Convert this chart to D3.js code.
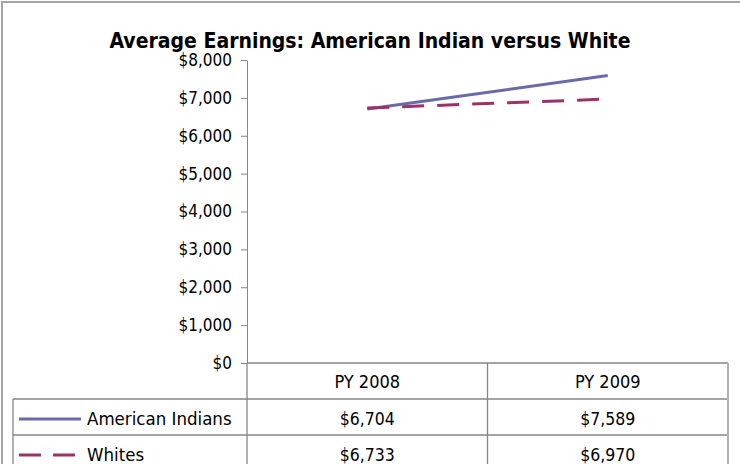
<!DOCTYPE html>
<html>
<head>
<meta charset="utf-8">
<script src="https://cdn.jsdelivr.net/npm/d3@7"></script>
<style>
  html, body { margin: 0; padding: 0; background: #fff; }
  svg { display: block; }
  text { font-family: "DejaVu Sans Condensed", "Liberation Sans Narrow", Lato, sans-serif; fill: #000; }
</style>
</head>
<body>
<svg id="chart" width="740" height="464"></svg>
<script>
const title = "Average Earnings: American Indian versus White";
const categories = ["PY 2008", "PY 2009"];
const seriesNames = ["American Indians", "Whites"];
const americanIndians = [6704, 7589];
const whites = [6733, 6970];
const yTicks = [0, 1000, 2000, 3000, 4000, 5000, 6000, 7000, 8000];

const series = [
  { name: seriesNames[0], values: americanIndians, color: "#6a6aa8", dash: null },
  { name: seriesNames[1], values: whites, color: "#9b3366", dash: "22,13" }
];

const svg = d3.select("#chart");
const gridColor = "#868686";

// outer chart border
svg.append("rect")
  .attr("x", 2).attr("y", 2).attr("width", 760).attr("height", 480)
  .attr("fill", "none").attr("stroke", "#a6a6a6").attr("stroke-width", 2);

// title
svg.append("text")
  .attr("x", 370).attr("y", 48)
  .attr("text-anchor", "middle")
  .style("font-size", "21px").style("font-weight", "bold")
  .text(title);

const plotLeft = 247, plotRight = 728, plotTop = 60, plotBottom = 363;
const rowH = 36;

const x = d3.scaleBand().domain(categories).range([plotLeft, plotRight]);
const y = d3.scaleLinear().domain([0, 8000]).range([plotBottom, plotTop]);

// y axis
const yAxis = d3.axisLeft(y)
  .tickValues(yTicks)
  .tickSize(6).tickSizeOuter(0).tickPadding(9)
  .tickFormat(d3.format("$,"));
const gy = svg.append("g").attr("transform", `translate(${plotLeft},0)`).call(yAxis);
gy.select(".domain").attr("stroke", gridColor);
gy.selectAll(".tick line").attr("stroke", gridColor);
gy.selectAll(".tick text")
  .style("font-size", "17px")
  .attr("font-family", null)
  .attr("fill", "#000");

// lines
const line = d3.line()
  .x((d, i) => x(categories[i]) + x.bandwidth() / 2)
  .y(d => y(d));

series.forEach(s => {
  svg.append("path")
    .datum(s.values)
    .attr("d", line)
    .attr("fill", "none")
    .attr("stroke", s.color)
    .attr("stroke-width", 3)
    .attr("stroke-dasharray", s.dash);
});

// data table
const tableLeft = 13;
const tbl = svg.append("g");
const lineAttrs = sel => sel.attr("stroke", gridColor).attr("stroke-width", 1.3);

tbl.append("line").attr("x1", plotLeft).attr("x2", plotRight)
  .attr("y1", plotBottom).attr("y2", plotBottom).call(lineAttrs);
for (let r = 1; r <= series.length; r++) {
  tbl.append("line").attr("x1", tableLeft).attr("x2", plotRight)
    .attr("y1", plotBottom + r * rowH).attr("y2", plotBottom + r * rowH).call(lineAttrs);
}
const colEdges = categories.map(c => x(c)).concat([x(categories[categories.length - 1]) + x.bandwidth()]);
colEdges.forEach((cx, i) => {
  tbl.append("line").attr("x1", cx).attr("x2", cx)
    .attr("y1", plotBottom).attr("y2", 470)
    .attr("stroke", i === colEdges.length - 1 ? "#b0b0b0" : gridColor)
    .attr("stroke-width", i === colEdges.length - 1 ? 2 : 1.3);
});
tbl.append("line").attr("x1", tableLeft).attr("x2", tableLeft)
  .attr("y1", plotBottom + rowH).attr("y2", 470).call(lineAttrs);

categories.forEach(c => {
  tbl.append("text")
    .attr("x", x(c) + x.bandwidth() / 2)
    .attr("y", plotBottom + rowH / 2 + 7)
    .attr("text-anchor", "middle")
    .style("font-size", "18px")
    .text(c);
});

const fmt = d3.format("$,");
series.forEach((s, r) => {
  const cy = plotBottom + rowH * (r + 1) + rowH / 2 + 2;
  tbl.append("line")
    .attr("x1", 19).attr("x2", 81)
    .attr("y1", cy).attr("y2", cy)
    .attr("stroke", s.color).attr("stroke-width", 3)
    .attr("stroke-dasharray", s.dash ? "22,12" : null);
  tbl.append("text")
    .attr("x", 87).attr("y", cy + 6)
    .style("font-size", "18.5px")
    .text(s.name);
  s.values.forEach((v, i) => {
    tbl.append("text")
      .attr("x", x(categories[i]) + x.bandwidth() / 2)
      .attr("y", cy + 6)
      .attr("text-anchor", "middle")
      .style("font-size", "17.5px")
      .text(fmt(v));
  });
});
</script>
</body>
</html>
